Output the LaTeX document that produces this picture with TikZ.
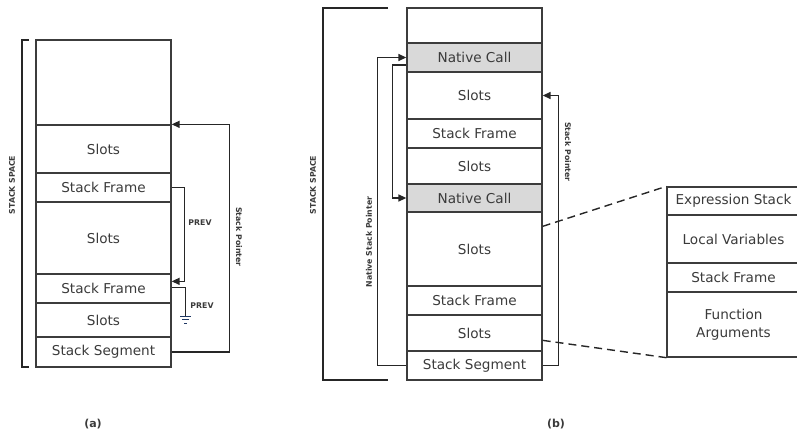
\documentclass[tikz,border=0pt]{standalone}
\usepackage{fontspec}
\setmainfont{DejaVu Sans}
\usetikzlibrary{arrows.meta,calc}

\definecolor{boxc}{HTML}{3C3C3C}
\definecolor{txt}{HTML}{3A3A3A}
\definecolor{linec}{HTML}{262626}
\definecolor{callfill}{HTML}{D9D9D9}
\definecolor{gnd}{HTML}{1F3864}

\tikzset{
  row/.style={draw=boxc, line width=1.3pt, inner sep=0pt, minimum width=135pt,
    text=txt, font=\fontsize{13.6}{18}\selectfont, align=center},
  callrow/.style={row, fill=callfill},
  ptr/.style={line width=1.4pt, draw=linec},
  ptrarrow/.style={ptr, -{Triangle[length=8pt,width=7pt]}},
  tag/.style={font=\bfseries\fontsize{7.8}{9}\selectfont, text=txt, inner sep=0pt},
  caption/.style={font=\bfseries\fontsize{11}{13}\selectfont, text=txt, inner sep=0pt},
  brace/.style={line width=1.4pt, draw=linec},
  zoomline/.style={line width=1.4pt, draw=linec, dash pattern=on 8pt off 5pt},
}

\begin{document}
\begin{tikzpicture}[x=1pt, y=-1pt]
\useasboundingbox (0,0) rectangle (797,431);

% ---------- (a) single stack segment ----------
\node[row, minimum height=85pt] (a0) at (103.5,82.5) {};
\node[row, minimum height=48pt] (a1) at (103.5,149) {Slots};
\node[row, minimum height=29pt] (a2) at (103.5,187.5) {Stack Frame};
\node[row, minimum height=72pt] (a3) at (103.5,238) {Slots};
\node[row, minimum height=29pt] (a4) at (103.5,288.5) {Stack Frame};
\node[row, minimum height=34pt] (a5) at (103.5,320) {Slots};
\node[row, minimum height=30pt] (a6) at (103.5,352) {Stack Segment};

\draw[brace] (29,40) -- (22,40) -- (22,367) -- (29,367);
\node[tag, rotate=90] (aspace) at (12,185) {STACK SPACE};

\draw[ptrarrow] (a6.east) -- ++(58,0) |- (a1.north east);
\node[tag, rotate=-90] (asp) at (239,237) {Stack Pointer};

\draw[ptrarrow] (a2.east) -- ++(13,0) |- ($(a4.north east)+(0,8)$);
\node[tag] (aprev1) at (200,223) {PREV};

\draw[ptr] ($(a4.north east)+(0,14)$) -- ++(14,0) -- ++(0,29) coordinate (g);
\draw[gnd, line width=1.2pt] ($(g)+(-5.5,0)$) -- ++(11,0);
\draw[gnd, line width=1.2pt] ($(g)+(-3.5,3.5)$) -- ++(7,0);
\draw[gnd, line width=1.2pt] ($(g)+(-1.5,7)$) -- ++(3,0);
\node[tag] (aprev2) at (202,306) {PREV};

\node[caption] (capa) at (93,424) {(a)};

% ---------- (b) stack with native calls ----------
\node[row, minimum height=35pt] (b0) at (474.5,25.5) {};
\node[callrow, minimum height=29pt] (b1) at (474.5,57.5) {Native Call};
\node[row, minimum height=47pt] (b2) at (474.5,95.5) {Slots};
\node[row, minimum height=29pt] (b3) at (474.5,133.5) {Stack Frame};
\node[row, minimum height=36pt] (b4) at (474.5,166) {Slots};
\node[callrow, minimum height=28pt] (b5) at (474.5,198) {Native Call};
\node[row, minimum height=74pt] (b6) at (474.5,249) {Slots};
\node[row, minimum height=29pt] (b7) at (474.5,300.5) {Stack Frame};
\node[row, minimum height=36pt] (b8) at (474.5,333) {Slots};
\node[row, minimum height=29pt] (b9) at (474.5,365.5) {Stack Segment};

\draw[brace] (388,8) -- (323,8) -- (323,380) -- (388,380);
\node[tag, rotate=90] (bspace) at (313,185) {STACK SPACE};

\draw[ptrarrow] (b9.west) -- ++(-29,0) |- (b1.west);
\node[tag, rotate=90] (bnsp) at (369,242) {Native Stack Pointer};

\draw[ptrarrow] ($(b1.west)+(0,7.5)$) -- ++(-14,0) |- (b5.west);

\draw[ptrarrow] (b9.east) -- ++(16,0) |- (b2.east);
\node[tag, rotate=-90] (bsp) at (568,152) {Stack Pointer};

\node[caption] (capb) at (556,424) {(b)};

% ---------- frame detail ----------
\node[row, minimum width=133pt, minimum height=28pt] (c0) at (733.5,201) {Expression Stack};
\node[row, minimum width=133pt, minimum height=48pt] (c1) at (733.5,239) {Local Variables};
\node[row, minimum width=133pt, minimum height=29pt] (c2) at (733.5,277.5) {Stack Frame};
\node[row, minimum width=133pt, minimum height=65pt] (c3) at (733.5,324.5) {Function\\Arguments};

\draw[zoomline] ($(b6.north east)+(0,15)$) -- (c0.north west);
\draw[zoomline] ($(b8.north east)+(0,26)$) -- (c3.south west);
\end{tikzpicture}
\end{document}
